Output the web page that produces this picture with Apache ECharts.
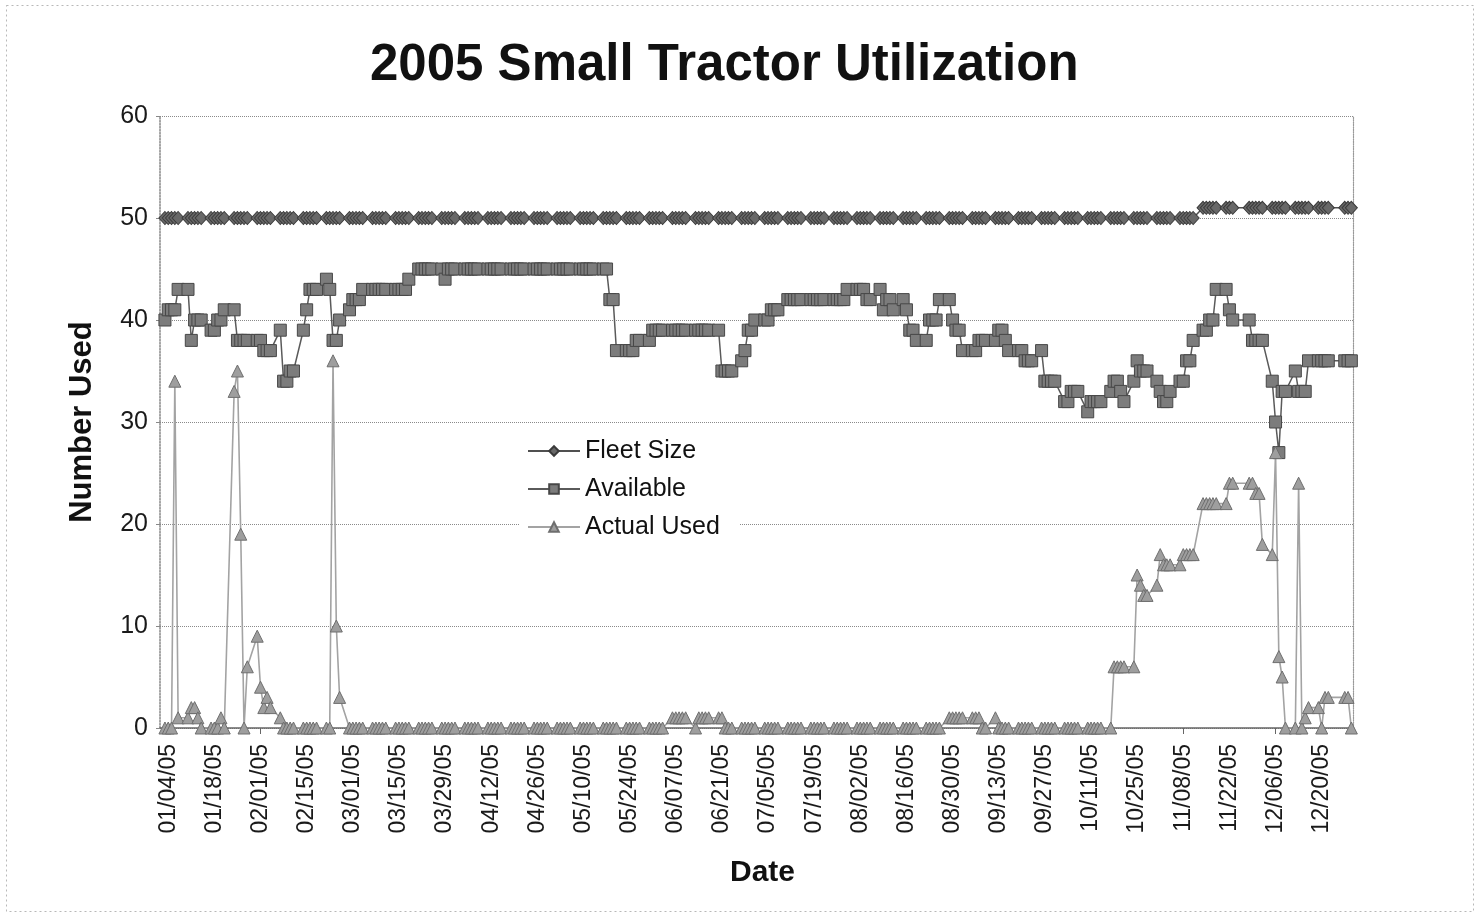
<!DOCTYPE html>
<html>
<head>
<meta charset="utf-8">
<script src="https://cdn.jsdelivr.net/npm/echarts/dist/echarts.min.js"></script>
<style>
html,body{margin:0;padding:0;background:#fff;}
#chart{width:1476px;height:916px;}
</style>
</head>
<body>
<div id="chart"></div>
<script>
// ---- tick labels (every 14 days) ----
const tickLabels = ['01/04/05','01/18/05','02/01/05','02/15/05','03/01/05','03/15/05','03/29/05',
  '04/12/05','04/26/05','05/10/05','05/24/05','06/07/05','06/21/05','07/05/05','07/19/05',
  '08/02/05','08/16/05','08/30/05','09/13/05','09/27/05','10/11/05','10/25/05','11/08/05',
  '11/22/05','12/06/05','12/20/05'];

// ---- data: one row per week (Mon..Fri), first week starts Mon 01/03/05; null = no record ----
const fleetSize = [
  [50,50,50,50,50],[50,50,50,50,50],[50,50,50,50,50],[50,50,50,50,50],
  [50,50,50,50,50],[50,50,50,50,50],[50,50,50,50,50],[50,50,50,50,50],
  [50,50,50,50,50],[50,50,50,50,50],[50,50,50,50,50],[50,50,50,50,50],
  [50,50,50,50,50],[50,50,50,50,50],[50,50,50,50,50],[50,50,50,50,50],
  [50,50,50,50,50],[50,50,50,50,50],[50,50,50,50,50],[50,50,50,50,50],
  [50,50,50,50,50],[50,50,50,50,50],[50,50,50,50,50],[50,50,50,50,50],
  [50,50,50,50,50],[50,50,50,50,50],[50,50,50,50,50],[50,50,50,50,50],
  [50,50,50,50,50],[50,50,50,50,50],[50,50,50,50,50],[50,50,50,50,50],
  [50,50,50,50,50],[50,50,50,50,50],[50,50,50,50,50],[50,50,50,50,50],
  [50,50,50,50,50],[50,50,50,50,50],[50,50,50,50,50],[50,50,50,50,50],
  [50,50,50,50,50],[50,50,50,50,50],[50,50,50,50,50],[50,50,50,50,50],
  [50,50,50,50,50],[51,51,51,51,51],[51,51,51,null,null],[51,51,51,51,51],
  [51,51,51,51,51],[51,51,51,51,51],[51,51,51,51,null],[null,51,51,51]
];
const available = [
  [40,41,41,41,43],[43,38,40,40,40],[39,39,40,40,41],[41,38,38,38,38],
  [38,38,37,37,37],[39,34,34,35,35],[39,41,43,43,43],[44,43,38,38,40],
  [41,42,42,42,43],[43,43,43,43,43],[43,43,43,43,44],[45,45,45,45,45],
  [45,44,45,45,45],[45,45,45,45,45],[45,45,45,45,45],[45,45,45,45,45],
  [45,45,45,45,45],[45,45,45,45,45],[45,45,45,45,45],[45,45,42,42,37],
  [37,37,37,38,38],[38,39,39,39,39],[39,39,39,39,39],[39,39,39,39,39],
  [39,35,35,35,35],[36,37,39,39,40],[40,40,41,41,41],[42,42,42,42,42],
  [42,42,42,42,42],[42,42,42,42,43],[43,43,43,42,42],[43,41,42,42,41],
  [42,41,39,39,38],[38,40,40,40,42],[42,40,39,39,37],[37,37,38,38,38],
  [38,39,39,38,37],[37,37,36,36,36],[37,34,34,34,34],[32,32,33,33,33],
  [31,32,32,32,32],[33,34,34,33,32],[34,36,35,35,35],[34,33,32,32,33],
  [34,34,36,36,38],[39,39,40,40,43],[43,41,40,null,null],[40,38,38,38,38],
  [34,30,27,33,33],[35,33,33,33,36],[36,36,36,36,null],[null,36,36,36]
];
const actualUsed = [
  [0,0,0,34,1],[1,2,2,1,0],[0,0,0,1,0],[33,35,19,0,6],
  [9,4,2,3,2],[1,0,0,0,0],[0,0,0,0,0],[0,0,36,10,3],
  [0,0,0,0,0],[0,0,0,0,0],[0,0,0,0,0],[0,0,0,0,0],
  [0,0,0,0,0],[0,0,0,0,0],[0,0,0,0,0],[0,0,0,0,0],
  [0,0,0,0,0],[0,0,0,0,0],[0,0,0,0,0],[0,0,0,0,0],
  [0,0,0,0,0],[0,0,0,0,0],[1,1,1,1,1],[0,1,1,1,1],
  [1,1,0,0,0],[0,0,0,0,0],[0,0,0,0,0],[0,0,0,0,0],
  [0,0,0,0,0],[0,0,0,0,0],[0,0,0,0,0],[0,0,0,0,0],
  [0,0,0,0,0],[0,0,0,0,0],[1,1,1,1,1],[1,1,1,0,0],
  [1,0,0,0,0],[0,0,0,0,0],[0,0,0,0,0],[0,0,0,0,0],
  [0,0,0,0,0],[0,6,6,6,6],[6,15,14,13,13],[14,17,16,16,16],
  [16,17,17,17,17],[22,22,22,22,22],[22,24,24,null,null],[24,24,23,23,18],
  [17,27,7,5,0],[0,24,0,1,2],[2,0,3,3,null],[null,3,3,0]
];

// ---- calendar-day category axis: 01/02/05 .. 12/29/05 ----
const FIRST_DAY = Date.UTC(2005, 0, 2);
const DAY_COUNT = 362;
function pad(n){ return (n < 10 ? '0' : '') + n; }
const categories = [];
for (let i = 0; i < DAY_COUNT; i++) {
  const d = new Date(FIRST_DAY + i * 86400000);
  categories.push(pad(d.getUTCMonth() + 1) + '/' + pad(d.getUTCDate()) + '/05');
}
// place weekday rows onto calendar days (Mon 01/03/05 is category 1)
function onCalendar(weeks) {
  const out = new Array(DAY_COUNT).fill(null);
  weeks.forEach((row, w) => row.forEach((v, d) => { out[1 + 7 * w + d] = v; }));
  return out;
}

const FONT = 'Liberation Sans, Arial, sans-serif';
const chart = echarts.init(document.getElementById('chart'), null, {renderer: 'canvas'});

function lineSeries(name, weeks, symbol, size, lineColor, lineWidth, fill, border) {
  return {
    name: name, type: 'line', data: onCalendar(weeks), connectNulls: true,
    showAllSymbol: true, symbol: symbol, symbolSize: size,
    lineStyle: {color: lineColor, width: lineWidth},
    itemStyle: {color: fill, borderColor: border, borderWidth: 1},
    emphasis: {disabled: true}, animation: false
  };
}

chart.setOption({
  animation: false,
  backgroundColor: '#ffffff',
  textStyle: {fontFamily: FONT},
  title: {
    text: '2005 Small Tractor Utilization', left: 365, top: 35,
    textStyle: {fontSize: 51, fontWeight: 'bold', color: '#111', fontFamily: FONT}
  },
  graphic: [{
    type: 'rect', left: 4, top: 3, z: -1,
    shape: {width: 1467, height: 906},
    style: {fill: 'none', stroke: '#b8b8b8', lineWidth: 1, lineDash: [2, 3]}
  }],
  legend: {
    orient: 'vertical', left: 520, top: 429,
    padding: [8, 20, 8, 7],
    backgroundColor: '#ffffff',
    itemWidth: 52, itemHeight: 12, itemGap: 10,
    textStyle: {fontSize: 25, color: '#111', fontFamily: FONT, lineHeight: 28},
    data: ['Fleet Size', 'Available', 'Actual Used']
  },
  grid: {left: 160, right: 123, top: 116, bottom: 188, containLabel: false},
  xAxis: {
    type: 'category', data: categories, boundaryGap: true,
    name: 'Date', nameLocation: 'middle', nameGap: 130,
    nameTextStyle: {fontSize: 30, fontWeight: 'bold', color: '#111', fontFamily: FONT, padding: [0, 0, 0, 12]},
    axisLine: {show: true, lineStyle: {color: '#666', width: 1.5}},
    axisTick: {
      show: true, alignWithLabel: true, length: 6, inside: false,
      interval: function (i, v) { const k = tickLabels.indexOf(v); return k >= 0 && k % 2 === 0; },
      lineStyle: {color: '#666'}
    },
    axisLabel: {
      interval: function (i, v) { return tickLabels.indexOf(v) >= 0; },
      rotate: 90, margin: 16, fontSize: 23, color: '#1a1a1a', fontFamily: FONT
    },
    splitLine: {show: false}
  },
  yAxis: [{
    type: 'value', min: 0, max: 60, interval: 10,
    name: 'Number Used', nameLocation: 'middle', nameGap: 62, nameRotate: 90,
    nameTextStyle: {fontSize: 31, fontWeight: 'bold', color: '#111', fontFamily: FONT},
    axisLine: {show: true, lineStyle: {color: '#888', type: 'dotted', width: 1.5}},
    axisTick: {show: true, length: 4, lineStyle: {color: '#888'}},
    axisLabel: {fontSize: 25, color: '#1a1a1a', margin: 12, fontFamily: FONT},
    splitLine: {show: true, lineStyle: {color: '#8a8a8a', type: 'dotted', width: 1}}
  }, {
    type: 'value', min: 0, max: 60, interval: 10, position: 'right',
    axisLine: {show: true, lineStyle: {color: '#999', type: 'dotted', width: 1.2}},
    axisTick: {show: false}, axisLabel: {show: false}, splitLine: {show: false}
  }],
  series: [
    lineSeries('Fleet Size', fleetSize, 'diamond', [12, 13], '#505050', 1.5, '#686868', '#3a3a3a'),
    lineSeries('Available', available, 'rect', [12, 12], '#5a5a5a', 1.5, '#7c7c7c', '#474747'),
    lineSeries('Actual Used', actualUsed, 'triangle', [12, 12], '#a3a3a3', 1.6, '#9e9e9e', '#6e6e6e')
  ]
});
</script>
</body>
</html>
